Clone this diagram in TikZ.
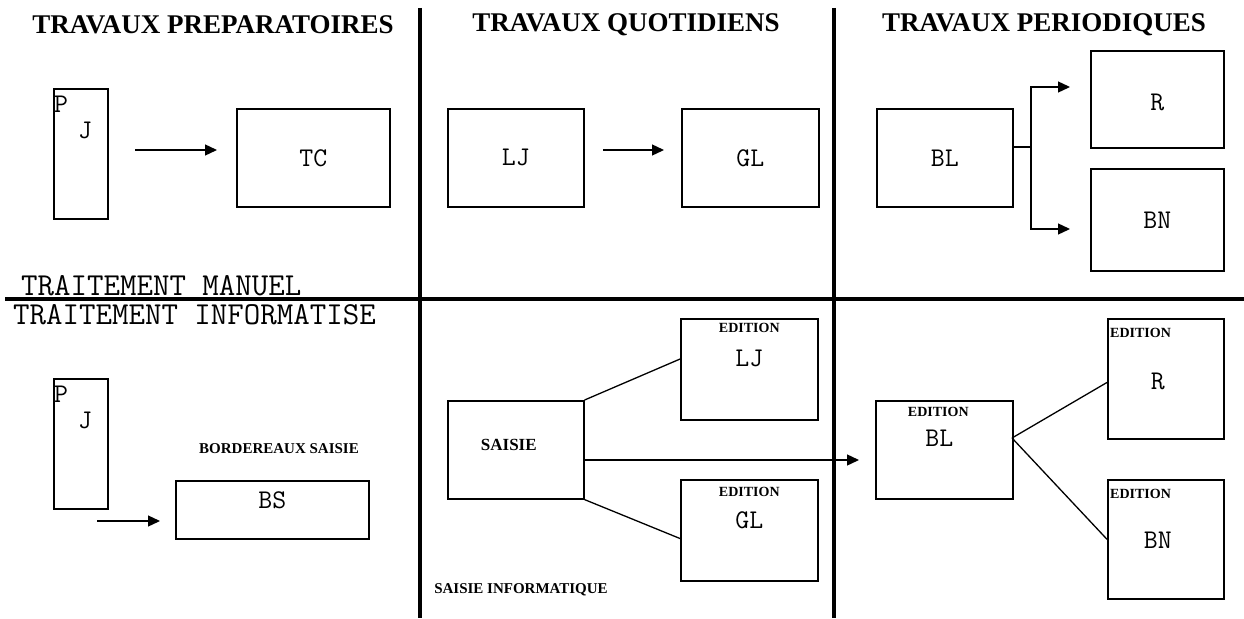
\documentclass[tikz,border=0pt]{standalone}
\usepackage{fontspec}
\setmainfont{Liberation Serif}
\usetikzlibrary{arrows.meta,calc}

\tikzset{
  bx/.style={draw, line width=1.6pt, rectangle, inner sep=0pt, anchor=north west},
  divider/.style={line width=3.4pt},
  link/.style={line width=1.3pt},
  arr/.style={line width=1.3pt, -{Triangle[length=12pt,width=11pt]}},
  head/.style={font=\bfseries\fontsize{27}{27}\selectfont, inner sep=0pt},
  side/.style={font=\ttfamily\fontsize{32}{32}\selectfont, inner sep=0pt, anchor=west},
  lab/.style={font=\ttfamily\fontsize{27}{27}\selectfont, inner sep=0pt},
  tiny/.style={font=\bfseries\fontsize{15}{15}\selectfont, inner sep=0pt},
  edit/.style={font=\bfseries\fontsize{14}{14}\selectfont, inner sep=0pt},
}

\begin{document}
\begin{tikzpicture}[x=1pt, y=-1pt]
\useasboundingbox (0,0) rectangle (1244,618);

% column and row dividers
\coordinate (v1t) at (420,8);  \coordinate (v1b) at (420,618);
\coordinate (v2t) at (834,8);  \coordinate (v2b) at (834,618);
\coordinate (hl) at (5,299);   \coordinate (hr) at (1244,299);
\draw[divider] (v1t) -- (v1b);
\draw[divider] (v2t) -- (v2b);
\draw[divider] (hl) -- (hr);

% column headings
\node[head] (h1) at (213,25) {TRAVAUX PREPARATOIRES};
\node[head] (h2) at (626,25) {TRAVAUX QUOTIDIENS};
\node[head] (h3) at (1044,25) {TRAVAUX PERIODIQUES};

% row captions
\node[side] (rm) at (21,286) {TRAITEMENT MANUEL};
\node[side] (ri) at (13,315) {TRAITEMENT INFORMATISE};

% ---------- manual processing ----------
\node[bx, minimum width=54pt, minimum height=130pt] (pj1) at (53,88) {};
\node[lab] (pj1p) at (61,104) {P};
\node[lab] (pj1j) at (85,130) {J};
\node[bx, minimum width=153pt, minimum height=98pt] (tc) at (236,108) {};
\node[lab] at (tc.center) {TC};
\coordinate (m1a) at (135,150); \coordinate (m1b) at (217,150);
\draw[arr] (m1a) -- (m1b);

\node[bx, minimum width=136pt, minimum height=98pt] (lj1) at (447,108) {};
\node[lab] at (lj1.center) {LJ};
\node[bx, minimum width=137pt, minimum height=98pt] (gl1) at (681,108) {};
\node[lab] at (gl1.center) {GL};
\coordinate (m2a) at (603,150); \coordinate (m2b) at (664,150);
\draw[arr] (m2a) -- (m2b);

\node[bx, minimum width=136pt, minimum height=98pt] (bl1) at (876,108) {};
\node[lab] at (bl1.center) {BL};
\node[bx, minimum width=133pt, minimum height=97pt] (r1) at (1090,50) {};
\node[lab] at ($(r1.center)+(0,3)$) {R};
\node[bx, minimum width=133pt, minimum height=102pt] (bn1) at (1090,168) {};
\node[lab] at (bn1.center) {BN};
\coordinate (sj) at (1031,147);
\coordinate (st) at (1031,87);  \coordinate (se) at (1070,87);
\coordinate (sb) at (1031,229); \coordinate (sf) at (1070,229);
\draw[link] (bl1.east |- sj) -- (sj);
\draw[arr] (sj) -- (st) -- (se);
\draw[arr] (sj) -- (sb) -- (sf);

% ---------- computer processing ----------
\node[bx, minimum width=54pt, minimum height=130pt] (pj2) at (53,378) {};
\node[lab] (pj2p) at (61,394) {P};
\node[lab] (pj2j) at (85,420) {J};
\node[tiny] (bord) at (279,449) {BORDEREAUX SAISIE};
\node[bx, minimum width=193pt, minimum height=58pt] (bs) at (175,480) {};
\node[lab] at ($(bs.north)+(0,20)$) {BS};
\coordinate (c1a) at (97,521); \coordinate (c1b) at (160,521);
\draw[arr] (c1a) -- (c1b);

\node[bx, minimum width=136pt, minimum height=98pt] (saisie) at (447,400) {};
\node[tiny, font=\bfseries\fontsize{17}{17}\selectfont] at ($(saisie.north)+(-7,45)$) {SAISIE};
\node[bx, minimum width=137pt, minimum height=101pt] (lj2) at (680,318) {};
\node[edit] at ($(lj2.north)+(0,10)$) {EDITION};
\node[lab] at ($(lj2.north)+(0,40)$) {LJ};
\node[bx, minimum width=137pt, minimum height=101pt] (gl2) at (680,479) {};
\node[edit] at ($(gl2.north)+(0,13)$) {EDITION};
\node[lab] at ($(gl2.north)+(0,41)$) {GL};
\node[tiny] (sinf) at (521,590) {SAISIE INFORMATIQUE};

\draw[link] (saisie.north east) -- ($(lj2.north west)!0.4!(lj2.south west)$);
\draw[link] (saisie.south east) -- ($(gl2.north west)!0.58!(gl2.south west)$);
\coordinate (c2b) at (859,460);
\draw[arr] (saisie.east |- c2b) -- (c2b);

\node[bx, minimum width=137pt, minimum height=98pt] (bl2) at (875,400) {};
\node[edit] at ($(bl2.north)+(-6,12)$) {EDITION};
\node[lab] at ($(bl2.north)+(-5,38)$) {BL};
\node[bx, minimum width=116pt, minimum height=120pt] (r2) at (1107,318) {};
\node[edit, anchor=west] at ($(r2.north west)+(3,15)$) {EDITION};
\node[lab] at ($(r2.north)+(-8,63)$) {R};
\node[bx, minimum width=116pt, minimum height=119pt] (bn2) at (1107,479) {};
\node[edit, anchor=west] at ($(bn2.north west)+(3,15)$) {EDITION};
\node[lab] at ($(bn2.north)+(-8,61)$) {BN};

\coordinate (bj) at (1012,438);
\draw[link] (bj) -- ($(r2.north west)!0.53!(r2.south west)$);
\draw[link] (bj) -- ($(bn2.north west)!0.5!(bn2.south west)$);
\end{tikzpicture}
\end{document}
